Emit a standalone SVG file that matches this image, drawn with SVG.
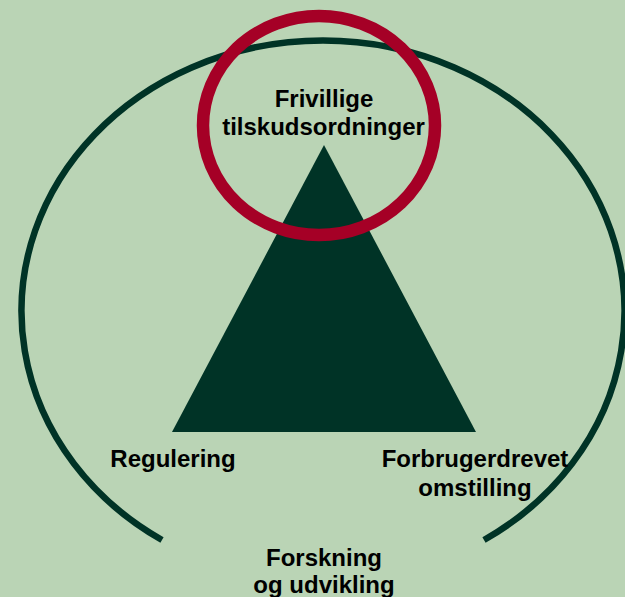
<svg xmlns="http://www.w3.org/2000/svg" width="625" height="597" viewBox="0 0 625 597">
<style>
.lbl{font-family:"Liberation Sans",Arial,sans-serif;font-weight:bold;font-size:24px;fill:#000;text-anchor:middle}
</style>
<rect x="0" y="0" width="625" height="597" fill="#bad4b5"/>
<g id="connectors">
<path id="arc" d="M 162 540 A 301.5 270.7 0 1 1 484 540" fill="none" stroke="#003326" stroke-width="6.5"/>
</g>
<g id="triangle">
<polygon points="324,145 172,432 476,432" fill="#003326"/>
</g>
<g id="circle">
<ellipse cx="319" cy="125.5" rx="116" ry="109.5" fill="none" stroke="#a50026" stroke-width="12.5"/>
</g>
<g id="node-top">
<text class="lbl" x="324" y="107">Frivillige</text>
<text class="lbl" x="323.5" y="134.5">tilskudsordninger</text>
</g>
<g id="node-left">
<text class="lbl" x="173" y="467">Regulering</text>
</g>
<g id="node-right">
<text class="lbl" x="475" y="467">Forbrugerdrevet</text>
<text class="lbl" x="475" y="495.5">omstilling</text>
</g>
<g id="node-bottom">
<text class="lbl" x="324" y="566">Forskning</text>
<text class="lbl" x="324" y="593">og udvikling</text>
</g>
</svg>
